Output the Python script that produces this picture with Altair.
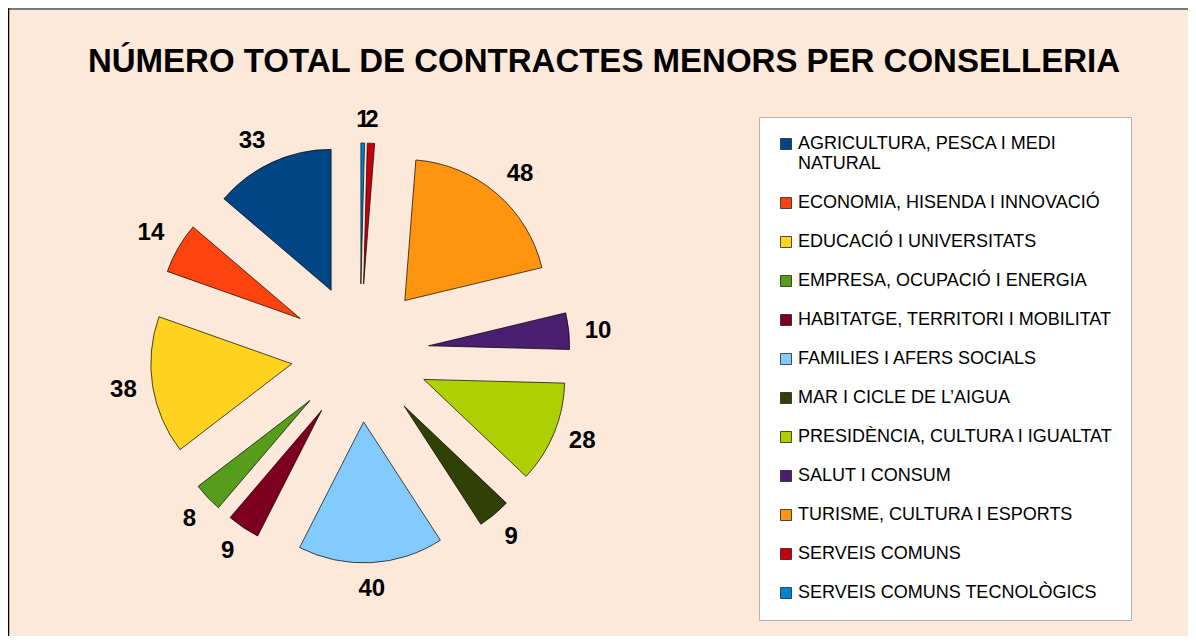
import altair as alt
import pandas as pd

# ---- data (legend order) ----
categories = [
    "AGRICULTURA, PESCA I MEDI NATURAL",
    "ECONOMIA, HISENDA I INNOVACIÓ",
    "EDUCACIÓ I UNIVERSITATS",
    "EMPRESA, OCUPACIÓ I ENERGIA",
    "HABITATGE, TERRITORI I MOBILITAT",
    "FAMILIES I AFERS SOCIALS",
    "MAR I CICLE DE L’AIGUA",
    "PRESIDÈNCIA, CULTURA I IGUALTAT",
    "SALUT I CONSUM",
    "TURISME, CULTURA I ESPORTS",
    "SERVEIS COMUNS",
    "SERVEIS COMUNS TECNOLÒGICS",
]
values = [33, 14, 38, 8, 9, 40, 9, 28, 10, 48, 2, 1]
colors = ["#004586", "#ff420e", "#ffd320", "#579d1c", "#7e0021", "#83caff",
          "#314004", "#aecf00", "#4b1f6f", "#ff950e", "#c5000b", "#0084d1"]
# legend label wrapping (first entry wraps onto two lines)
wrapped_label = {"AGRICULTURA, PESCA I MEDI NATURAL": ["AGRICULTURA, PESCA I MEDI", "NATURAL"]}

title_text = "NÚMERO TOTAL DE CONTRACTES MENORS PER CONSELLERIA"

df = pd.DataFrame({"name": categories, "value": values, "order": list(range(len(categories)))})

# ---- layout ----
W, H = 1180, 628
CX, CY = 352, 345      # pie centre (px)
R = 141                # pie radius
EXPLODE = 69           # radial offset of every slice
LABEL_R = 157          # distance of the label's nearest edge from the slice tip
LABEL_FS = 24
DIGIT_W = 0.556 * LABEL_FS
HALF_CAP = 0.36 * LABEL_FS
FONT = "Liberation Sans"
BG = "#FDE9D9"

label_expr = " : ".join(
    [f"datum.label == '{k}' ? {v!r}" for k, v in wrapped_label.items()] + ["datum.label"]
)

base = (
    alt.Chart(df)
    .transform_window(cum="sum(value)", sort=[alt.SortField("order", order="descending")], frame=[None, 0])
    .transform_joinaggregate(total="sum(value)")
    .transform_calculate(t1="2*PI*datum.cum/datum.total")
    .transform_calculate(t0="2*PI*(datum.cum-datum.value)/datum.total")
    .transform_calculate(mid="(datum.t0+datum.t1)/2")
    .transform_calculate(s="sin(datum.mid)")
    .transform_calculate(c="cos(datum.mid)")
    .transform_calculate(cx=f"{CX}+{EXPLODE}*datum.s")
    .transform_calculate(cy=f"{CY}-{EXPLODE}*datum.c")
    # label placement: outside the slice, box aligned by quadrant
    .transform_calculate(hx="abs(datum.s) > 0.3 ? (datum.s > 0 ? 1 : -1) : 0")
    .transform_calculate(vy="abs(datum.c) > 0.42 ? (datum.c > 0 ? 1 : -1) : 0")
    .transform_calculate(lw=f"{DIGIT_W}*length(toString(datum.value))")
    .transform_calculate(lx=f"datum.cx + {LABEL_R}*datum.s + datum.hx*datum.lw/2")
    .transform_calculate(ly=f"datum.cy - {LABEL_R}*datum.c - datum.vy*{HALF_CAP} + {HALF_CAP}")
)

arcs = base.mark_arc(radius=R, stroke="black", strokeWidth=0.7).encode(
    theta=alt.Theta("t0:Q", scale=None),
    theta2=alt.Theta2("t1:Q"),
    x=alt.X("cx:Q", scale=None, axis=None),
    y=alt.Y("cy:Q", scale=None, axis=None),
    color=alt.Color(
        "name:N",
        scale=alt.Scale(domain=categories, range=colors),
        legend=alt.Legend(
            title=None, orient="none", legendX=751, legendY=109,
            fillColor="white", strokeColor="#b3b3b3", padding=18,
            symbolType="square", symbolSize=121, symbolStrokeColor="#222222",
            symbolStrokeWidth=0.8, labelFont=FONT, labelFontSize=18,
            labelColor="black", labelLimit=600, rowPadding=21, labelOffset=3,
            labelExpr=label_expr,
        ),
    ),
)

labels = base.mark_text(
    font=FONT, fontSize=LABEL_FS, fontWeight="bold", color="black",
    align="center", baseline="alphabetic",
).encode(
    x=alt.X("lx:Q", scale=None, axis=None),
    y=alt.Y("ly:Q", scale=None, axis=None),
    text="value:Q",
)

one = alt.Data(values=[{}])
top_border = alt.Chart(one).mark_rule(color="#7a7a7a", strokeWidth=2).encode(
    x=alt.value(0), x2=alt.value(W), y=alt.value(1)
)
left_border = alt.Chart(one).mark_rule(color="black", strokeWidth=1.5).encode(
    x=alt.value(0.5), y=alt.value(0), y2=alt.value(H)
)

chart = (
    alt.layer(arcs, labels, top_border, left_border)
    .properties(
        width=W, height=H, padding=0, autosize="none", background=BG,
        title=alt.Title(title_text, font=FONT, fontSize=33, fontWeight="bold",
                        color="black", anchor="middle", frame="group",
                        offset=-72, dx=6),
    )
    .configure_view(stroke=None)
)

chart.save("out.html", embed_options={"renderer": "svg", "actions": False})
